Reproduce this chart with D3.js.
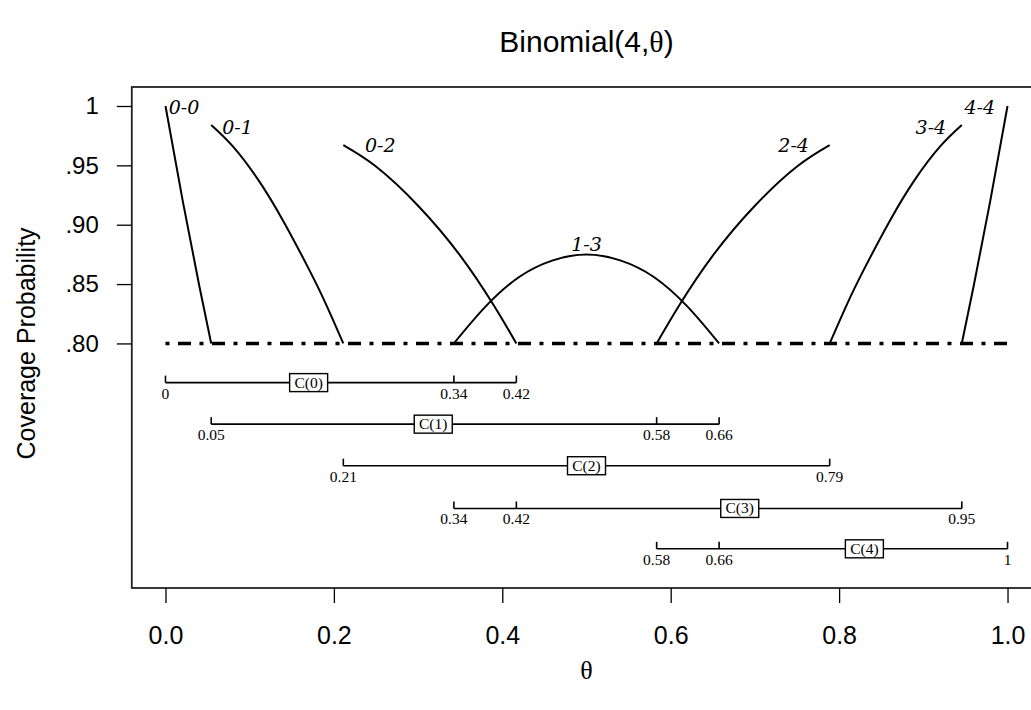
<!DOCTYPE html>
<html>
<head>
<meta charset="utf-8">
<title>Binomial(4,theta) coverage</title>
<script src="https://cdn.jsdelivr.net/npm/d3@7"></script>
<style>
  body { margin: 0; background: #fff; }
  .axis text { font-family: "Liberation Sans", Arial, sans-serif; fill: #000; }
  .xaxis text { font-size: 25px; }
  .yaxis text { font-size: 24px; }
  .axis line { stroke: #000; stroke-width: 1.3; }
  .axis path { display: none; }
  .curve { fill: none; stroke: #000; stroke-width: 2; }
  .clabel { font-family: "DejaVu Serif", serif; font-style: italic; font-size: 19px; }
  .ilabel { font-family: "Liberation Serif", serif; font-size: 15.5px; }
</style>
</head>
<body>
<script>
// x axis ticks
var thetaTicks = [0, 0.2, 0.4, 0.6, 0.8, 1.0];
var thetaTickLabels = ["0.0", "0.2", "0.4", "0.6", "0.8", "1.0"];
// y axis ticks
var probTicks = [0.80, 0.85, 0.90, 0.95, 1];
var probTickLabels = [".80", ".85", ".90", ".95", "1"];

// coverage curves, [theta, coverage]
var curve00 = [[0, 1], [0.02, 0.922], [0.04, 0.849], [0.0543, 0.80]];
var curve01 = [[0.0543, 0.984], [0.08, 0.966], [0.11, 0.938], [0.14, 0.903], [0.17, 0.863], [0.19, 0.834], [0.2112, 0.80]];
var curve02 = [[0.2112, 0.967], [0.25, 0.949], [0.30, 0.916], [0.35, 0.874], [0.39, 0.832], [0.4167, 0.80]];
var curve13 = [[0.3425, 0.80], [0.38, 0.831], [0.42, 0.856], [0.46, 0.870], [0.50, 0.875], [0.54, 0.870], [0.58, 0.856], [0.62, 0.831], [0.6575, 0.80]];
var curve24 = [[0.5833, 0.80], [0.61, 0.832], [0.65, 0.874], [0.70, 0.916], [0.75, 0.949], [0.7888, 0.967]];
var curve34 = [[0.7888, 0.80], [0.81, 0.834], [0.83, 0.863], [0.86, 0.903], [0.89, 0.938], [0.92, 0.966], [0.9457, 0.984]];
var curve44 = [[0.9457, 0.80], [0.96, 0.849], [0.98, 0.922], [1, 1]];
var curves = [curve00, curve01, curve02, curve13, curve24, curve34, curve44];

var curveNames = ["0-0", "0-1", "0-2", "1-3", "2-4", "3-4", "4-4"];
var curveLabelTheta = [0.022, 0.0855, 0.255, 0.5, 0.746, 0.909, 0.967];
var curveLabelProb = [0.999, 0.982, 0.967, 0.884, 0.967, 0.982, 0.999];

var confLevel = 0.80;

// acceptance sets C(x)
var setNames = ["C(0)", "C(1)", "C(2)", "C(3)", "C(4)"];
var setLower = [0, 0.0543, 0.2112, 0.3425, 0.5833];
var setUpper = [0.4167, 0.6575, 0.7888, 0.9457, 1];
var setTicks = [[0, 0.3425, 0.4167], [0.0543, 0.5833, 0.6575], [0.2112, 0.7888], [0.3425, 0.4167, 0.9457], [0.5833, 0.6575, 1]];
var setBoxTheta = [0.170, 0.318, 0.5, 0.682, 0.830];
var setRowProb = [0.767, 0.732, 0.697, 0.661, 0.627];

var width = 1031, height = 710;

var svg = d3.select("body").append("svg")
    .attr("width", width)
    .attr("height", height);

var x = d3.scaleLinear().domain([-0.04, 1.04]).range([131.8, 1041.2]);
var y = d3.scaleLinear().domain([0.594, 1.016]).range([588, 87]);

// plot box (right side runs off the picture like in the original)
svg.append("rect")
    .attr("x", x(-0.04)).attr("y", y(1.016))
    .attr("width", x(1.04) - x(-0.04)).attr("height", y(0.594) - y(1.016))
    .attr("fill", "none").attr("stroke", "#222").attr("stroke-width", 1.8);

var xAxis = d3.axisBottom(x)
    .tickValues(thetaTicks)
    .tickFormat(function(d, i){ return thetaTickLabels[i]; })
    .tickSize(15).tickPadding(23);
svg.append("g").attr("class", "axis xaxis")
    .attr("transform", "translate(0," + y(0.594) + ")")
    .call(xAxis);

var yAxis = d3.axisLeft(y)
    .tickValues(probTicks)
    .tickFormat(function(d, i){ return probTickLabels[i]; })
    .tickSize(15).tickPadding(18);
svg.append("g").attr("class", "axis yaxis")
    .attr("transform", "translate(" + x(-0.04) + ",0)")
    .call(yAxis);

// reference level
svg.append("line")
    .attr("x1", x(0)).attr("x2", x(1))
    .attr("y1", y(confLevel)).attr("y2", y(confLevel))
    .attr("stroke", "#000").attr("stroke-width", 3.5)
    .attr("stroke-dasharray", "4,8.5,13,8.5");

var line = d3.line()
    .x(function(d){ return x(d[0]); })
    .y(function(d){ return y(d[1]); })
    .curve(d3.curveNatural);

svg.selectAll("path.curve").data(curves).enter()
    .append("path").attr("class", "curve")
    .attr("d", line);

svg.selectAll("text.clabel").data(curveNames).enter()
    .append("text").attr("class", "clabel")
    .attr("x", function(d, i){ return x(curveLabelTheta[i]); })
    .attr("y", function(d, i){ return y(curveLabelProb[i]); })
    .attr("text-anchor", "middle")
    .attr("dominant-baseline", "central")
    .text(function(d){ return d; });

// acceptance set rows
var fmt = function(v){ return String(+v.toFixed(2)); };
setNames.forEach(function(name, i){
    var g = svg.append("g");
    var yy = y(setRowProb[i]);
    g.append("line")
        .attr("x1", x(setLower[i])).attr("x2", x(setUpper[i]))
        .attr("y1", yy).attr("y2", yy)
        .attr("stroke", "#000").attr("stroke-width", 1.6);
    g.selectAll("line.tk").data(setTicks[i]).enter()
        .append("line").attr("class", "tk")
        .attr("x1", function(d){ return x(d); }).attr("x2", function(d){ return x(d); })
        .attr("y1", yy).attr("y2", yy - 7)
        .attr("stroke", "#000").attr("stroke-width", 1.6);
    g.selectAll("text.tl").data(setTicks[i]).enter()
        .append("text").attr("class", "ilabel tl")
        .attr("x", function(d){ return x(d); })
        .attr("y", yy + 16)
        .attr("text-anchor", "middle")
        .text(fmt);
    var bx = x(setBoxTheta[i]);
    g.append("rect")
        .attr("x", bx - 19).attr("y", yy - 9)
        .attr("width", 38).attr("height", 18)
        .attr("fill", "#fff").attr("stroke", "#000").attr("stroke-width", 1.4);
    g.append("text").attr("class", "ilabel")
        .attr("x", bx).attr("y", yy + 5)
        .attr("text-anchor", "middle")
        .text(name);
});

// titles
var title = svg.append("text")
    .attr("x", x(0.5)).attr("y", 52)
    .attr("text-anchor", "middle")
    .style("font-family", "'Liberation Sans', Arial, sans-serif")
    .style("font-size", "30px");
title.append("tspan").text("Binomial(4,");
title.append("tspan").style("font-family", "'Liberation Serif', serif").text("\u03b8");
title.append("tspan").text(")");

svg.append("text")
    .attr("x", x(0.5)).attr("y", 679)
    .attr("text-anchor", "middle")
    .style("font-family", "'Liberation Serif', serif")
    .style("font-size", "26px")
    .text("\u03b8");

svg.append("text")
    .attr("transform", "translate(35," + y(0.80) + ") rotate(-90)")
    .attr("text-anchor", "middle")
    .style("font-family", "'Liberation Sans', Arial, sans-serif")
    .style("font-size", "25px")
    .text("Coverage Probability");
</script>
</body>
</html>
